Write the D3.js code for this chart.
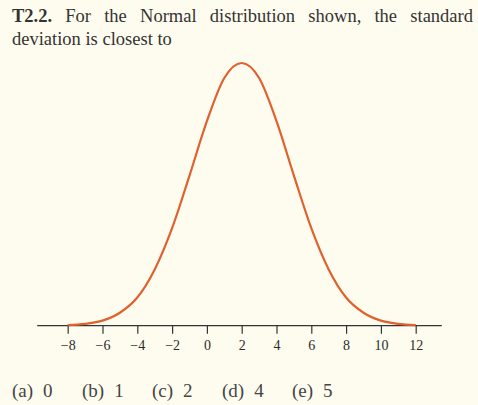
<!DOCTYPE html>
<html>
<head>
<meta charset="utf-8">
<script src="https://cdn.jsdelivr.net/npm/d3@7"></script>
<style>
  body { margin: 0; background: #fefcef; }
  svg { display: block; }
  text { font-family: "Liberation Serif", "DejaVu Serif", serif; fill: #333; }
</style>
</head>
<body>
<div id="vis"></div>
<script>
// values
const xValues = [-8, -7, -6, -5, -4, -3, -2, -1, 0, 1, 2, 3, 4, 5, 6, 7, 8, 9, 10, 11, 12]
const density = [0.0003, 0.0010, 0.0027, 0.0069, 0.015, 0.030, 0.052, 0.080, 0.109, 0.132, 0.140,
                 0.132, 0.109, 0.080, 0.052, 0.030, 0.015, 0.0069, 0.0027, 0.0010, 0.0003]
const tickValues = [-8, -6, -4, -2, 0, 2, 4, 6, 8, 10, 12]
const axisExtent = [-9.75, 13.5]

const titleLine1 = ['T2.2.', 'For', 'the', 'Normal', 'distribution', 'shown,', 'the', 'standard']
const titleLine2 = 'deviation is closest to'
const optionLetters = ['a', 'b', 'c', 'd', 'e']
const optionValues = [0, 1, 2, 4, 5]

const width = 478
const height = 405
const axisY = 325.7

const svg = d3.select('#vis').append('svg')
  .attr('width', width)
  .attr('height', height)

const xScale = d3.scaleLinear().domain([-8, 12]).range([67.7, 415.7])
const yScale = d3.scaleLinear().domain([0, 0.14]).range([axisY, 63])

// question text, first line justified
const line1 = svg.append('g').attr('class', 'title')
const words = line1.selectAll('text')
  .data(titleLine1)
  .enter()
  .append('text')
  .attr('y', 21.7)
  .style('font-size', '18.5px')
  .style('font-weight', (d, i) => i === 0 ? 'bold' : 'normal')
  .text(d => d)

const left = 12, right = 473
const widths = []
words.each(function () { widths.push(this.getComputedTextLength()) })
const gap = (right - left - d3.sum(widths)) / (widths.length - 1)
let cx = left
words.attr('x', (d, i) => { const x = cx; cx += widths[i] + gap; return x })

svg.append('text')
  .attr('x', left)
  .attr('y', 45)
  .style('font-size', '18.5px')
  .text(titleLine2)

// axis
svg.append('line')
  .attr('x1', xScale(axisExtent[0]))
  .attr('x2', xScale(axisExtent[1]))
  .attr('y1', axisY)
  .attr('y2', axisY)
  .attr('stroke', '#333')
  .attr('stroke-width', 1.3)

const axis = svg.append('g')
  .attr('transform', `translate(0,${axisY})`)
  .call(d3.axisBottom(xScale).tickValues(tickValues).tickSize(8).tickPadding(6))
  .attr('font-family', '"Liberation Serif", serif')
  .attr('font-size', 14)

axis.select('.domain').remove()
axis.selectAll('.tick line').attr('stroke', '#333').attr('stroke-width', 1.2)
axis.selectAll('.tick text')
  .attr('style', 'font-family: "Liberation Serif", serif; font-size: 14px; fill: #2b2b2b')

// the curve
const line = d3.line()
  .x((d, i) => xScale(xValues[i]))
  .y(d => yScale(d))
  .curve(d3.curveMonotoneX)

svg.append('path')
  .datum(density)
  .attr('d', line)
  .attr('fill', 'none')
  .attr('stroke', '#e0602e')
  .attr('stroke-width', 2.2)

// answer options
const optX = d3.scaleLinear().domain([0, 4]).range([12, 292])
const opts = svg.selectAll('.opt')
  .data(optionLetters)
  .enter()
  .append('text')
  .attr('class', 'opt')
  .attr('x', (d, i) => optX(i))
  .attr('y', 396.5)
  .style('font-size', '19px')
  .style('fill', '#444')

opts.append('tspan').text(d => `(${d})`)
opts.append('tspan').attr('dx', 10).text((d, i) => optionValues[i])
</script>
</body>
</html>
